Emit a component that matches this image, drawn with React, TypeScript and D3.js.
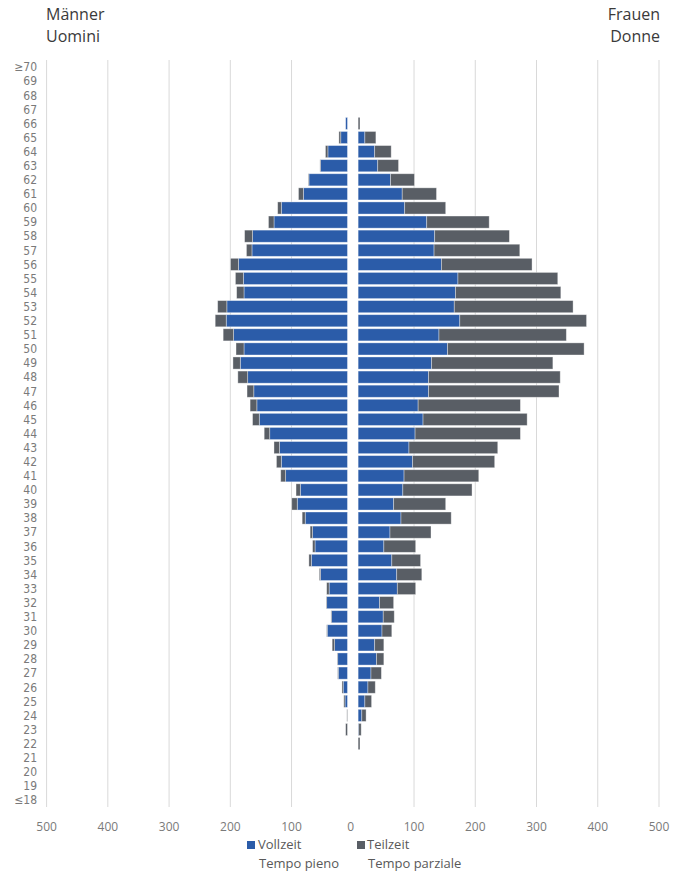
import React from "react";
import * as d3 from "d3";

const ages = ["≥70","69","68","67","66","65","64","63","62","61","60","59","58","57","56","55","54","53","52","51","50","49","48","47","46","45","44","43","42","41","40","39","38","37","36","35","34","33","32","31","30","29","28","27","26","25","24","23","22","21","20","19","≤18"];

const menFull = [0,0,0,0,3,11,32,44,63,72,108,120,155,156,178,170,169,197,198,186,169,175,163,153,148,144,127,111,108,101,77,82,69,57,53,59,44,30,34,26,33,21,16,15,7,4,0,0,0,0,0,0,0];
const menPart = [0,0,0,0,0,3,4,1,1,8,6,9,13,9,13,13,12,15,18,17,13,12,16,11,11,11,9,9,8,8,7,9,5,4,4,4,2,4,1,1,1,4,1,1,2,2,1,3,0,0,0,0,0];
const womenFull = [0,0,0,0,0,11,27,32,53,72,76,112,125,124,136,163,159,157,166,132,146,120,115,115,98,106,93,83,89,75,73,58,70,52,42,55,63,64,35,41,39,27,30,21,16,11,6,1,0,0,0,0,0];
const womenPart = [0,0,0,0,3,18,27,34,39,56,67,102,122,140,148,163,172,194,207,208,223,198,215,213,167,170,172,145,134,122,113,85,82,67,52,47,41,30,23,18,16,15,12,17,12,11,7,4,3,0,0,0,0];

const ticks = [-500,-400,-300,-200,-100,0,100,200,300,400,500];
const tickLabels = ["500","400","300","200","100","0","100","200","300","400","500"];
const legendDe = ["Vollzeit", "Teilzeit"];
const legendIt = ["Tempo pieno", "Tempo parziale"];

const BLUE = "#2B5CA9";
const GRAY = "#595E65";
const GAP = 8.7;
const FONT = "'Open Sans', sans-serif";
const NARROW = "'Liberation Sans Narrow', 'DejaVu Sans Condensed', 'Liberation Sans', sans-serif";

export default function App() {
  const W = 677, H = 876;
  const top = 60, bottom = 807;
  const x = d3.scaleLinear().domain([-500, 500]).range([46.6, 659]);
  const y = d3.scaleBand().domain(ages).range([top, bottom]).paddingInner(0.14).paddingOuter(0.07);
  const bw = y.bandwidth();

  const bars: React.ReactNode[] = [];
  ages.forEach((a, i) => {
    const yy = y(a)!;
    const mf = menFull[i], mp = menPart[i], wf = womenFull[i], wp = womenPart[i];
    if (mf > 0) bars.push(<rect key={"mf" + i} x={x(-GAP - mf)} y={yy} width={x(-GAP) - x(-GAP - mf)} height={bw} fill={BLUE} stroke="#ffffff" strokeOpacity={0.45} strokeWidth={0.8} />);
    if (mp > 0) bars.push(<rect key={"mp" + i} x={x(-GAP - mf - mp)} y={yy} width={x(-GAP - mf) - x(-GAP - mf - mp)} height={bw} fill={GRAY} stroke="#ffffff" strokeOpacity={0.45} strokeWidth={0.8} />);
    if (wf > 0) bars.push(<rect key={"wf" + i} x={x(GAP)} y={yy} width={x(GAP + wf) - x(GAP)} height={bw} fill={BLUE} stroke="#ffffff" strokeOpacity={0.45} strokeWidth={0.8} />);
    if (wp > 0) bars.push(<rect key={"wp" + i} x={x(GAP + wf)} y={yy} width={x(GAP + wf + wp) - x(GAP + wf)} height={bw} fill={GRAY} stroke="#ffffff" strokeOpacity={0.45} strokeWidth={0.8} />);
  });

  return (
    <svg width={W} height={H} style={{ position: "absolute", left: 0, top: 0, background: "#fff" }} fontFamily={FONT}>
      <text x={46} y={20} fontSize={16} fill="#3a3a3a">Männer</text>
      <text x={46} y={42} fontSize={16} fill="#3a3a3a">Uomini</text>
      <text x={660} y={20} fontSize={16} fill="#3a3a3a" textAnchor="end">Frauen</text>
      <text x={660} y={42} fontSize={16} fill="#3a3a3a" textAnchor="end">Donne</text>

      {ticks.filter(t => t !== 0).map(t => (
        <line key={"g" + t} x1={x(t)} x2={x(t)} y1={top} y2={bottom} stroke="#d9d9d9" strokeWidth={1} />
      ))}

      {bars}

      {ages.map(a => (
        <text key={"a" + a} x={37} y={y(a)! + bw / 2} dy="0.36em" fontSize={12} fontFamily={NARROW} fill="#7a7a7a" textAnchor="end">{a}</text>
      ))}

      {ticks.map((t, i) => (
        <text key={"t" + t} x={x(t) - (t === 0 ? 2 : 0)} y={831} fontSize={12} fill="#7a7a7a" textAnchor="middle">{tickLabels[i]}</text>
      ))}

      <rect x={247} y={841} width={8} height={8} fill={BLUE} />
      <text x={258} y={849} fontSize={13} fill="#595959">{legendDe[0]}</text>
      <rect x={357} y={841} width={8} height={8} fill={GRAY} />
      <text x={367} y={849} fontSize={13} fill="#595959">{legendDe[1]}</text>
      <text x={259} y={868} fontSize={13} fill="#595959">{legendIt[0]}</text>
      <text x={368} y={868} fontSize={13} fill="#595959">{legendIt[1]}</text>
    </svg>
  );
}
